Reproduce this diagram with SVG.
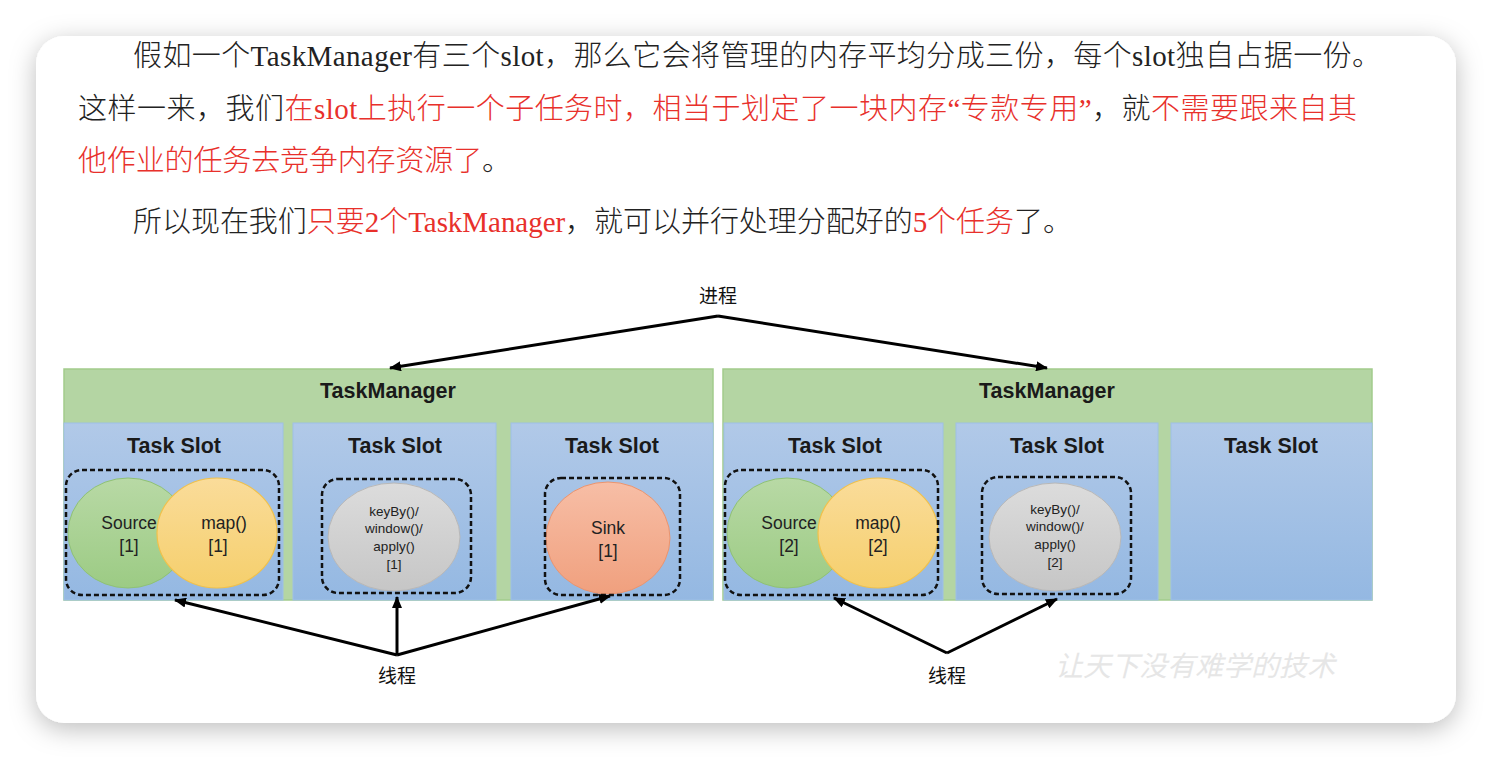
<svg xmlns="http://www.w3.org/2000/svg" width="1492" height="760" viewBox="0 0 1492 760">
<style>
.para{font-family:"Liberation Serif","Noto Sans CJK SC",serif;font-size:29px;font-weight:300;fill:#222}
.red{fill:#e8302b}
.hdr{font-family:"Liberation Sans",Arial,sans-serif;font-size:21.5px;font-weight:bold;fill:#1a1a1a;text-anchor:middle}
.lbl{font-family:"Liberation Sans",Arial,sans-serif;font-size:17.5px;fill:#222;text-anchor:middle}
.sm{font-family:"Liberation Sans",Arial,sans-serif;font-size:13.5px;fill:#222;text-anchor:middle}
.cn{font-family:"Noto Sans CJK SC",sans-serif;font-size:19px;fill:#111;text-anchor:middle}
.tm{fill:#b4d5a3;stroke:#a2cb8c;stroke-width:1.5}
.slot{fill:url(#gSlot);stroke:#9ec0e6;stroke-width:1}
.dash{fill:none;stroke:#111;stroke-width:2.5;stroke-dasharray:5 3}
.conn{stroke:#000;stroke-width:3;fill:none;marker-end:url(#arr)}
</style>
<defs>
<filter id="sh" x="-10%" y="-10%" width="120%" height="125%">
<feDropShadow dx="0" dy="6" stdDeviation="13" flood-color="#000" flood-opacity="0.26"/>
</filter>
<linearGradient id="gSlot" x1="0" y1="0" x2="0" y2="1"><stop offset="0" stop-color="#b1c9e8"/><stop offset="1" stop-color="#94b8e2"/></linearGradient>
<linearGradient id="gSrc" x1="0" y1="0" x2="0" y2="1"><stop offset="0" stop-color="#b8d9a5"/><stop offset="1" stop-color="#9ccb84"/></linearGradient>
<linearGradient id="gMap" x1="0" y1="0" x2="0" y2="1"><stop offset="0" stop-color="#fadc9a"/><stop offset="1" stop-color="#f5cf6c"/></linearGradient>
<linearGradient id="gKey" x1="0" y1="0" x2="0" y2="1"><stop offset="0" stop-color="#dcdcdc"/><stop offset="1" stop-color="#c6c6c6"/></linearGradient>
<linearGradient id="gSink" x1="0" y1="0" x2="0" y2="1"><stop offset="0" stop-color="#f7bea6"/><stop offset="1" stop-color="#f0a07e"/></linearGradient>
<marker id="arr" viewBox="0 0 12 10" refX="11" refY="5" markerWidth="12" markerHeight="10" markerUnits="userSpaceOnUse" orient="auto">
<path d="M0,0 L12,5 L0,10 Z" fill="#000"/>
</marker>
</defs>
<rect width="1492" height="760" fill="#ffffff"/>
<rect x="36" y="36" width="1420" height="687" rx="28" fill="#ffffff" filter="url(#sh)"/>

<g id="paragraph">
<text class="para" x="133" y="66" textLength="1248" lengthAdjust="spacing">假如一个TaskManager有三个slot，那么它会将管理的内存平均分成三份，每个slot独自占据一份。</text>
<text class="para" x="78" y="119" textLength="1279" lengthAdjust="spacing">这样一来，我们<tspan class="red">在slot上执行一个子任务时，相当于划定了一块内存“专款专用”</tspan>，就<tspan class="red">不需要跟来自其</tspan></text>
<text class="para" x="78" y="171" textLength="433" lengthAdjust="spacing"><tspan class="red">他作业的任务去竞争内存资源了</tspan>。</text>
<text class="para" x="133" y="232" textLength="939" lengthAdjust="spacing">所以现在我们<tspan class="red">只要2个TaskManager</tspan>，就可以并行处理分配好的<tspan class="red">5个任务</tspan>了。</text>
</g>

<g id="tm1">
<rect class="tm" x="64" y="369" width="649" height="231"/>
<text class="hdr" x="388" y="398">TaskManager</text>
</g>
<g id="tm1-slot1">
<rect class="slot" x="64" y="423" width="219" height="177"/>
<text class="hdr" x="174" y="453">Task Slot</text>
<ellipse cx="128" cy="533" rx="60" ry="55" fill="url(#gSrc)" stroke="#8fc176" stroke-width="1"/>
<ellipse cx="217" cy="533" rx="60" ry="55" fill="url(#gMap)" stroke="#f2c14a" stroke-width="1.2"/>
<text class="lbl" x="129" y="529">Source</text>
<text class="lbl" x="129" y="552">[1]</text>
<text class="lbl" x="224" y="529">map()</text>
<text class="lbl" x="218" y="552">[1]</text>
<rect class="dash" x="66" y="470" width="213" height="125" rx="16"/>
</g>
<g id="tm1-slot2">
<rect class="slot" x="293" y="423" width="203" height="177"/>
<text class="hdr" x="395" y="453">Task Slot</text>
<ellipse cx="394" cy="537" rx="66" ry="54" fill="url(#gKey)" stroke="#b8b8b8" stroke-width="1"/>
<text class="sm" x="394" y="516">keyBy()/</text>
<text class="sm" x="394" y="533">window()/</text>
<text class="sm" x="394" y="551">apply()</text>
<text class="sm" x="394" y="569">[1]</text>
<rect class="dash" x="322" y="479" width="149" height="114" rx="16"/>
</g>
<g id="tm1-slot3">
<rect class="slot" x="511" y="423" width="202" height="177"/>
<text class="hdr" x="612" y="453">Task Slot</text>
<ellipse cx="608" cy="538" rx="62" ry="56" fill="url(#gSink)" stroke="#eb946e" stroke-width="1"/>
<text class="lbl" x="608" y="534">Sink</text>
<text class="lbl" x="608" y="557">[1]</text>
<rect class="dash" x="545" y="478" width="135" height="117" rx="16"/>
</g>

<g id="tm2">
<rect class="tm" x="723" y="369" width="649" height="231"/>
<text class="hdr" x="1047" y="398">TaskManager</text>
</g>
<g id="tm2-slot1">
<rect class="slot" x="724" y="423" width="219" height="177"/>
<text class="hdr" x="835" y="453">Task Slot</text>
<ellipse cx="787" cy="533" rx="60" ry="55" fill="url(#gSrc)" stroke="#8fc176" stroke-width="1"/>
<ellipse cx="878" cy="533" rx="60" ry="55" fill="url(#gMap)" stroke="#f2c14a" stroke-width="1.2"/>
<text class="lbl" x="789" y="529">Source</text>
<text class="lbl" x="789" y="552">[2]</text>
<text class="lbl" x="878" y="529">map()</text>
<text class="lbl" x="878" y="552">[2]</text>
<rect class="dash" x="725" y="470" width="213" height="125" rx="16"/>
</g>
<g id="tm2-slot2">
<rect class="slot" x="956" y="423" width="202" height="177"/>
<text class="hdr" x="1057" y="453">Task Slot</text>
<ellipse cx="1055" cy="537" rx="66" ry="54" fill="url(#gKey)" stroke="#b8b8b8" stroke-width="1"/>
<text class="sm" x="1055" y="514">keyBy()/</text>
<text class="sm" x="1055" y="531">window()/</text>
<text class="sm" x="1055" y="549">apply()</text>
<text class="sm" x="1055" y="567">[2]</text>
<rect class="dash" x="982" y="477" width="149" height="117" rx="16"/>
</g>
<g id="tm2-slot3">
<rect class="slot" x="1171" y="423" width="201" height="177"/>
<text class="hdr" x="1271" y="453">Task Slot</text>
</g>

<g id="label-process">
<text class="cn" x="718" y="303">进程</text>
</g>
<g id="label-thread1">
<text class="cn" x="397" y="683">线程</text>
</g>
<g id="label-thread2">
<text class="cn" x="947" y="683">线程</text>
</g>

<g id="connectors">
<path class="conn" d="M718,316 L390,368"/>
<path class="conn" d="M718,316 L1047,368"/>
<path class="conn" d="M397,655 L175,600"/>
<path class="conn" d="M397,655 L397,597"/>
<path class="conn" d="M397,655 L610,596"/>
<path class="conn" d="M947,653 L834,598"/>
<path class="conn" d="M947,653 L1057,599"/>
</g>

<g id="watermark">
<text x="1195" y="676" text-anchor="middle" font-family="Noto Sans CJK SC, sans-serif" font-size="28" font-style="italic" fill="#e6e6e6">让天下没有难学的技术</text>
</g>
</svg>
